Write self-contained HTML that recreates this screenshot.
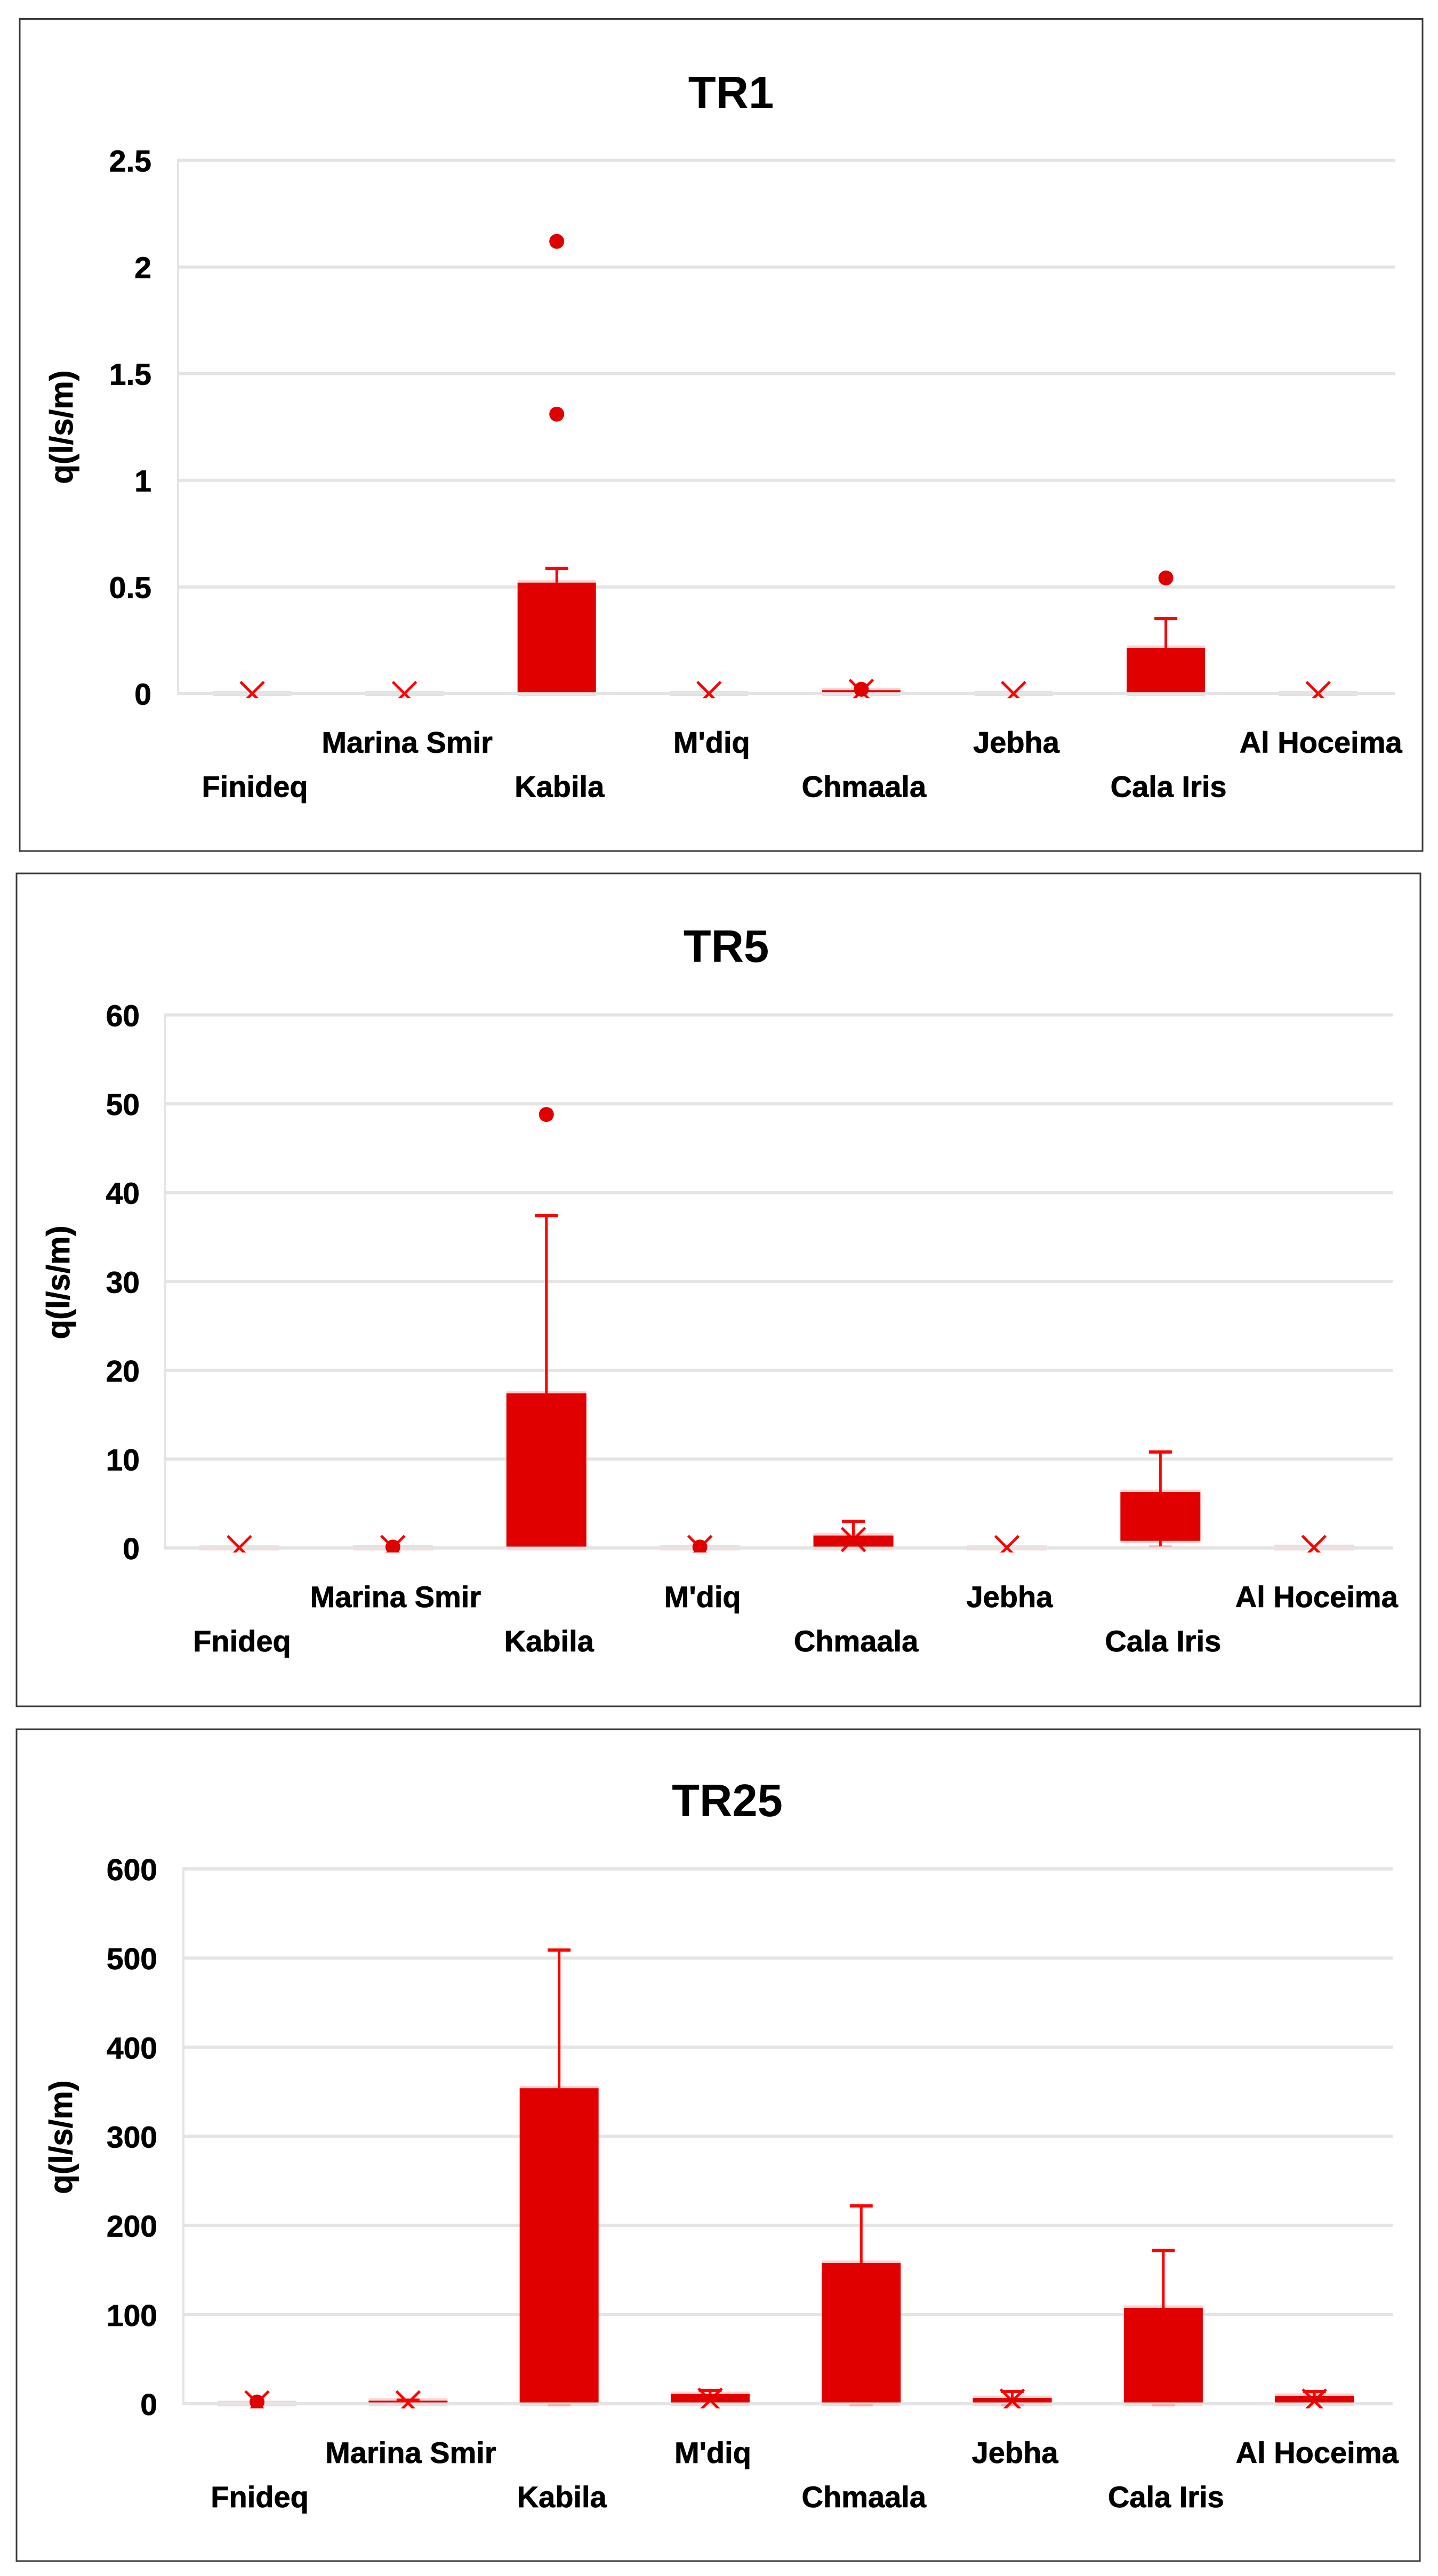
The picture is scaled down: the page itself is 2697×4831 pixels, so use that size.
<!DOCTYPE html>
<html lang="en">
<head>
<meta charset="utf-8">
<title>TR1, TR5, TR25 box charts</title>
<style>
  html, body { margin: 0; padding: 0; background: #ffffff; }
  body { width: 2697px; height: 4831px; overflow: hidden; }
  svg { display: block; }
  text { font-family: "Liberation Sans", sans-serif; font-weight: 700; fill: #000000; }
  .title { font-size: 85px; text-anchor: middle; }
  .y-title { font-size: 60px; text-anchor: middle; stroke: #000000; stroke-width: 0.8px; }
  .tick { font-size: 57px; text-anchor: end; stroke: #000000; stroke-width: 0.8px; }
  .cat { font-size: 56px; text-anchor: middle; stroke: #000000; stroke-width: 0.8px; }
</style>
</head>
<body>
<svg id="figure" xmlns="http://www.w3.org/2000/svg" width="2697" height="4831" viewBox="0 0 2697 4831">
  <rect x="0" y="0" width="2697" height="4831" fill="#ffffff"/>

  <g id="chart-tr1">
    <rect x="37" y="35.5" width="2631" height="1560.5" fill="#ffffff" stroke="#3a3a3a" stroke-width="3"/>
    <text class="title" x="1371" y="203">TR1</text>
    <text class="y-title" transform="translate(136 801) rotate(-90)">q(l/s/m)</text>
  </g>

  <g id="chart-tr5">
    <rect x="31" y="1638" width="2633" height="1562" fill="#ffffff" stroke="#3a3a3a" stroke-width="3"/>
    <text class="title" x="1362" y="1804">TR5</text>
    <text class="y-title" transform="translate(130 2405) rotate(-90)">q(l/s/m)</text>
  </g>

  <g id="chart-tr25">
    <rect x="31" y="3243" width="2632" height="1560" fill="#ffffff" stroke="#3a3a3a" stroke-width="3"/>
    <text class="title" x="1364" y="3406">TR25</text>
    <text class="y-title" transform="translate(135 4008) rotate(-90)">q(l/s/m)</text>
  </g>
</svg>

<script>
// ---- Data ----
var categoriesTR1 = ["Finideq", "Marina Smir", "Kabila", "M'diq", "Chmaala", "Jebha", "Cala Iris", "Al Hoceima"];
var categoriesOther = ["Fnideq", "Marina Smir", "Kabila", "M'diq", "Chmaala", "Jebha", "Cala Iris", "Al Hoceima"];

var tr1Ticks = [0, 0.5, 1, 1.5, 2, 2.5];
var tr1Q1 = [0, 0, 0, 0, 0, 0, 0, 0];
var tr1Q3 = [0, 0, 0.52, 0, 0.016, 0, 0.214, 0];
var tr1WhiskerHigh = [null, null, 0.587, null, null, null, 0.352, null];
var tr1WhiskerLow = [null, null, null, null, null, null, null, null];
var tr1Means = [0, 0, 0.2, 0, 0.01, 0, 0.13, 0];
var tr1Outliers = [[], [], [2.12, 1.31], [], [0.02], [], [0.542], []];

var tr5Ticks = [0, 10, 20, 30, 40, 50, 60];
var tr5Q1 = [0, 0, 0, 0, 0, 0, 0.8, 0];
var tr5Q3 = [0.02, 0.03, 17.4, 0.03, 1.4, 0.02, 6.3, 0.1];
var tr5WhiskerHigh = [null, null, 37.4, null, 3.0, null, 10.8, null];
var tr5WhiskerLow = [null, null, null, null, null, null, 0.2, null];
var tr5Means = [0.03, 0.05, 8, 0.05, 0.95, 0.03, 3.5, 0.05];
var tr5Outliers = [[], [0.1], [48.8], [0.1], [], [], [], []];

var tr25Ticks = [0, 100, 200, 300, 400, 500, 600];
var tr25Q1 = [0, 0, 0, 0, 0, 0, 0, 0];
var tr25Q3 = [0.8, 3.5, 354, 11, 158, 6.5, 107.7, 9];
var tr25WhiskerHigh = [null, 4, 509, 15, 222, 13.7, 172, 13.7];
var tr25WhiskerLow = [null, null, 0, null, 0, 0, 0, null];
var tr25Means = [1, 1, 150, 4, 70, 3, 45, 3];
var tr25Outliers = [[2], [], [], [], [], [], [], []];

var SVG_NS = "http://www.w3.org/2000/svg";
var BAR_RED = "#e00000";
var LINE_RED = "#ff0000";
var GRID = "#e4e4e4";

function svgEl(tag, parent) {
  var node = document.createElementNS(SVG_NS, tag);
  parent.appendChild(node);
  return node;
}

function drawLine(parent, x1, y1, x2, y2, color, width, opacity) {
  var el = svgEl("line", parent);
  el.setAttribute("x1", x1);
  el.setAttribute("y1", y1);
  el.setAttribute("x2", x2);
  el.setAttribute("y2", y2);
  el.setAttribute("stroke", color);
  el.setAttribute("stroke-width", width);
  if (opacity !== undefined) el.setAttribute("stroke-opacity", opacity);
  return el;
}

function drawChart(rootId, g, categories, ticks, q1, q3, high, low, means, outliers) {
  var root = document.getElementById(rootId);
  var yMax = ticks[ticks.length - 1];
  function xScale(i) { return g.bandLeft + g.band * (i + 0.5); }
  function yScale(v) { return g.zero - (v / yMax) * (g.zero - g.top); }

  var clipId = rootId + "-clip";
  var clip = svgEl("clipPath", root);
  clip.setAttribute("id", clipId);
  var clipRect = svgEl("rect", clip);
  clipRect.setAttribute("x", g.left - 20);
  clipRect.setAttribute("y", g.top - 40);
  clipRect.setAttribute("width", g.right - g.left + 40);
  clipRect.setAttribute("height", g.zero - g.top + 48.5);

  // Pale box outlines sit beneath the gridlines
  categories.forEach(function (cat, i) {
    var el = svgEl("rect", root);
    
    
    el.setAttribute("x", xScale(i) - g.barWidth / 2);
    el.setAttribute("y", yScale(q3[i]) - 4.5);
    el.setAttribute("width", g.barWidth);
    el.setAttribute("height", yScale(q1[i]) - yScale(q3[i]) + 9);
    el.setAttribute("fill", "#ff5050");
    el.setAttribute("fill-opacity", "0.26");
  });

  // Gridlines and tick labels
  ticks.forEach(function (t) {
    var grid = drawLine(root, g.left, yScale(t), g.right, yScale(t), GRID, 6);
    
    

    var label = svgEl("text", root);
    
    
    label.setAttribute("class", "tick");
    label.setAttribute("x", g.tickRight);
    label.setAttribute("y", yScale(t) + 21);
    label.textContent = String(t);
  });

  var axis = drawLine(root, g.left, g.top - 3, g.left, g.zero + 3, GRID, 4);
  
  

  categories.forEach(function (cat, i) {
    var cx = xScale(i);

    // Mean marker, beneath the box
    var my = yScale(means[i]);
    var mean = svgEl("path", root);
    
    
    mean.setAttribute("d", "M" + (cx - 22) + " " + (my - 22) + "L" + (cx + 22) + " " + (my + 22) +
      "M" + (cx + 22) + " " + (my - 22) + "L" + (cx - 22) + " " + (my + 22));
    mean.setAttribute("stroke", LINE_RED);
    mean.setAttribute("stroke-width", "5");
    mean.setAttribute("fill", "none");
    mean.setAttribute("clip-path", "url(#" + clipId + ")");

    // Box
    var boxTop = yScale(q3[i]);
    var boxBottom = q1[i] === 0 ? g.zero - 2.5 : yScale(q1[i]);
    if (boxBottom - boxTop > 0) {
      var bar = svgEl("rect", root);
      
      
      bar.setAttribute("x", cx - g.barWidth / 2);
      bar.setAttribute("y", boxTop);
      bar.setAttribute("width", g.barWidth);
      bar.setAttribute("height", boxBottom - boxTop);
      bar.setAttribute("fill", BAR_RED);
    }

    // Upper whisker
    if (high[i] !== null) {
      var hy = yScale(high[i]);
      var stem = drawLine(root, cx, boxTop, cx, hy, LINE_RED, 5);
      
      
      var cap = drawLine(root, cx - 21.5, hy, cx + 21.5, hy, LINE_RED, 6);
      
      
    }

    // Lower whisker (pale cap on the axis)
    if (low[i] !== null) {
      var ly = low[i] === 0 ? g.zero + 3 : yScale(low[i]);
      if (low[i] < q1[i]) {
        var lowStem = drawLine(root, cx, boxBottom, cx, ly, LINE_RED, 5);
        
        
      }
      var lowCap = drawLine(root, cx - 21.5, ly, cx + 21.5, ly, LINE_RED, 4, 0.2);
      
      
    }

    // Outliers
    outliers[i].forEach(function (v) {
      var dot = svgEl("circle", root);
      
      
      dot.setAttribute("cx", cx);
      dot.setAttribute("cy", yScale(v));
      dot.setAttribute("r", "14");
      dot.setAttribute("fill", BAR_RED);
      dot.setAttribute("clip-path", "url(#" + clipId + ")");
    });

    // Category label, staggered on two rows
    var text = svgEl("text", root);
    
    
    text.setAttribute("class", "cat");
    text.setAttribute("x", cx + 5);
    text.setAttribute("y", g.zero + (i % 2 === 1 ? 111 : 194));
    text.textContent = cat;
  });
}

drawChart("chart-tr1",
  { left: 334, right: 2617, top: 300.7, zero: 1300.7, bandLeft: 330.2, band: 285.6, tickRight: 284, barWidth: 147 },
  categoriesTR1, tr1Ticks, tr1Q1, tr1Q3, tr1WhiskerHigh, tr1WhiskerLow, tr1Means, tr1Outliers);

drawChart("chart-tr5",
  { left: 310, right: 2612, top: 1903.5, zero: 2903, bandLeft: 305, band: 287.9, tickRight: 262, barWidth: 150 },
  categoriesOther, tr5Ticks, tr5Q1, tr5Q3, tr5WhiskerHigh, tr5WhiskerLow, tr5Means, tr5Outliers);

drawChart("chart-tr25",
  { left: 344, right: 2612, top: 3505, zero: 4508, bandLeft: 340.4, band: 283.3, tickRight: 295, barWidth: 148 },
  categoriesOther, tr25Ticks, tr25Q1, tr25Q3, tr25WhiskerHigh, tr25WhiskerLow, tr25Means, tr25Outliers);
</script>
</body>
</html>
